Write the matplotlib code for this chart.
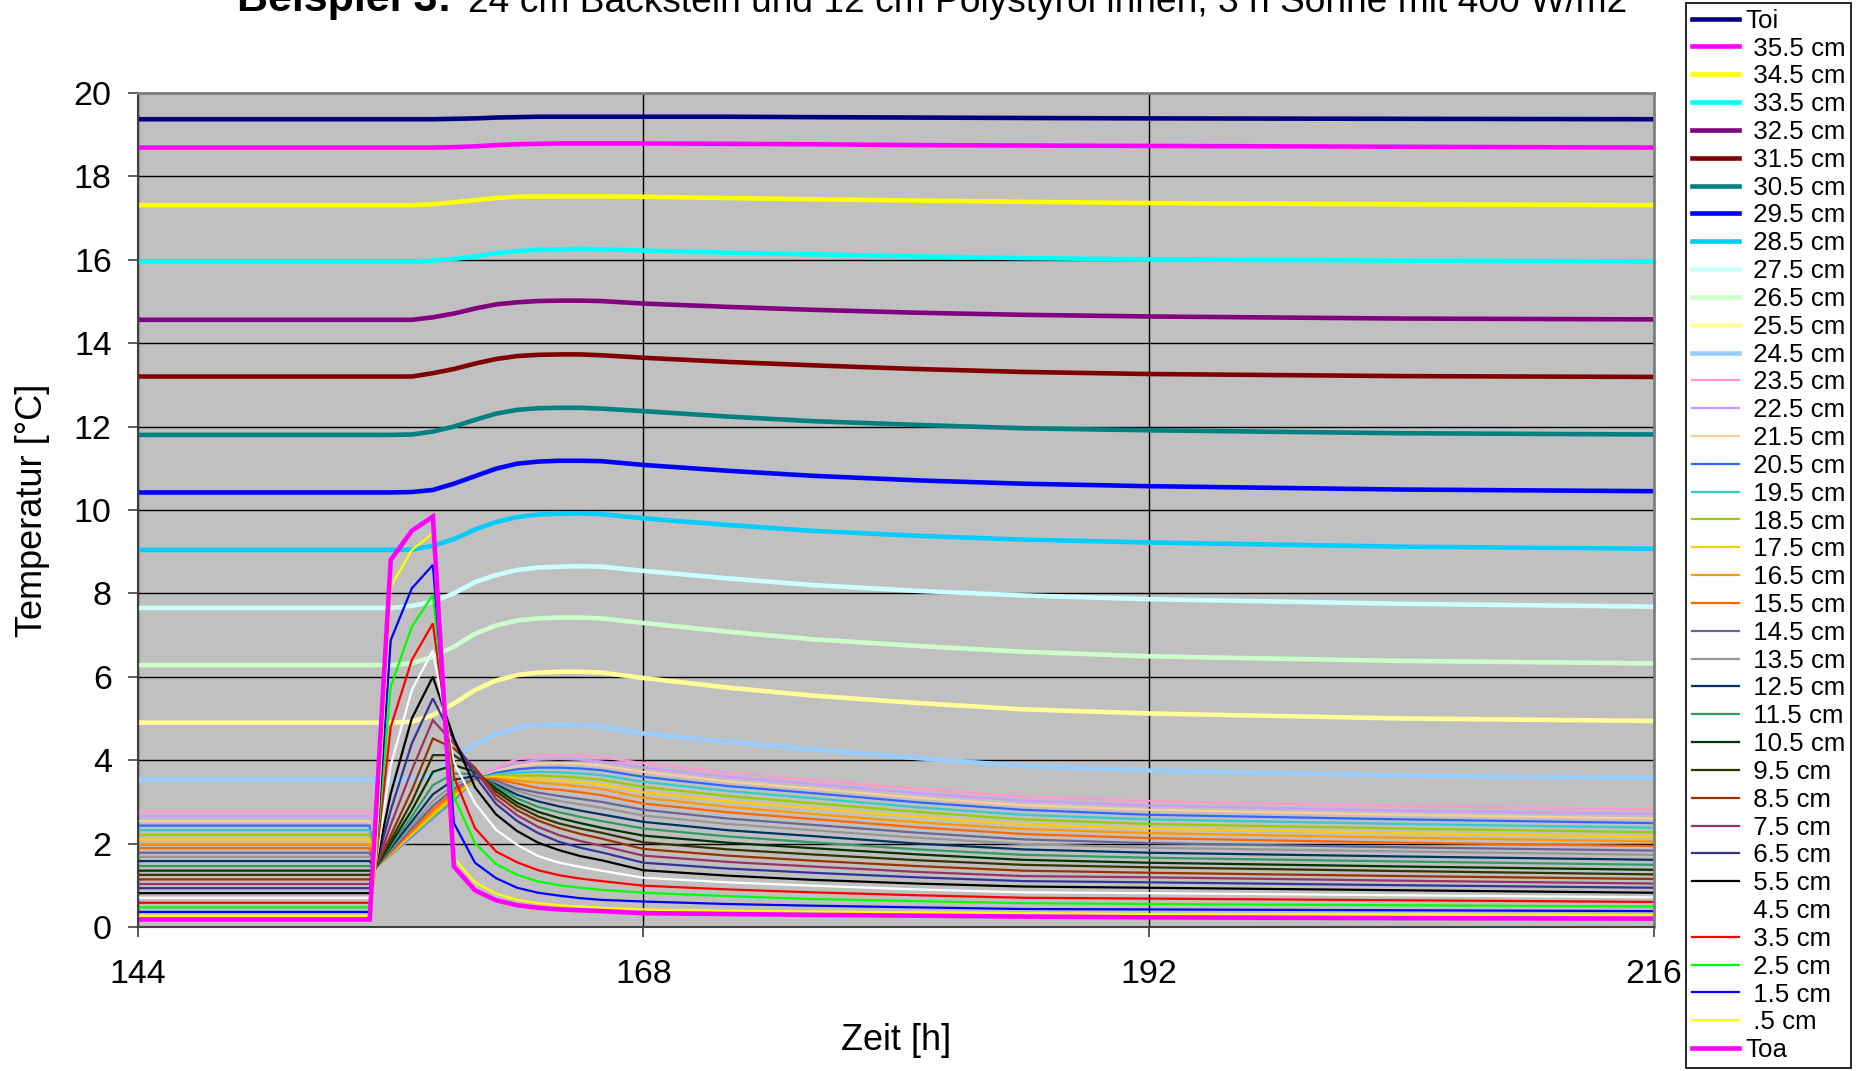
import matplotlib
matplotlib.use("Agg")
import matplotlib.pyplot as plt

plt.rcParams['font.family'] = ['Liberation Sans', 'DejaVu Sans']

# time axis [h]; brick layers have one extra sample just after the jump at 155 h
hours = [144, 155, 156, 157, 158, 159, 160, 161, 162, 163, 164, 165, 166, 168, 172, 176, 181, 186, 192, 204, 216]
brick_hours = [144, 155, 155.25, 156, 157, 158, 159, 160, 161, 162, 163, 164, 165, 166, 168, 172, 176, 181, 186, 192, 204, 216]

# inner surface, polystyrene layers and outer surface (hours)
toi = [19.37, 19.37, 19.37, 19.37, 19.37, 19.38, 19.39, 19.41, 19.42, 19.43, 19.43, 19.43, 19.43, 19.43, 19.43, 19.42, 19.41, 19.40, 19.39, 19.38, 19.37]
t355 = [18.69, 18.69, 18.69, 18.69, 18.69, 18.70, 18.72, 18.75, 18.77, 18.78, 18.79, 18.79, 18.79, 18.79, 18.78, 18.77, 18.75, 18.74, 18.73, 18.71, 18.69]
t345 = [17.31, 17.31, 17.31, 17.31, 17.33, 17.38, 17.43, 17.48, 17.51, 17.52, 17.52, 17.52, 17.52, 17.51, 17.48, 17.45, 17.42, 17.39, 17.36, 17.33, 17.31]
t335 = [15.95, 15.95, 15.95, 15.95, 15.98, 16.02, 16.08, 16.16, 16.21, 16.24, 16.25, 16.26, 16.25, 16.22, 16.17, 16.13, 16.08, 16.04, 16.01, 15.98, 15.96]
t325 = [14.56, 14.56, 14.56, 14.56, 14.62, 14.71, 14.83, 14.93, 14.98, 15.01, 15.02, 15.02, 15.01, 14.95, 14.87, 14.80, 14.73, 14.68, 14.64, 14.59, 14.57]
t315 = [13.20, 13.20, 13.20, 13.20, 13.28, 13.38, 13.51, 13.62, 13.69, 13.72, 13.73, 13.73, 13.71, 13.65, 13.55, 13.47, 13.38, 13.31, 13.26, 13.21, 13.19]
t305 = [11.80, 11.80, 11.80, 11.81, 11.88, 12.00, 12.16, 12.31, 12.40, 12.44, 12.45, 12.45, 12.43, 12.37, 12.24, 12.13, 12.04, 11.96, 11.91, 11.84, 11.81]
t295 = [10.42, 10.42, 10.42, 10.43, 10.48, 10.63, 10.81, 10.99, 11.11, 11.16, 11.18, 11.18, 11.17, 11.08, 10.94, 10.82, 10.71, 10.63, 10.57, 10.49, 10.45]
t285 = [9.04, 9.04, 9.04, 9.05, 9.14, 9.30, 9.53, 9.71, 9.83, 9.89, 9.91, 9.92, 9.90, 9.80, 9.64, 9.50, 9.38, 9.29, 9.22, 9.12, 9.07]
t275 = [7.65, 7.65, 7.65, 7.70, 7.80, 8.00, 8.27, 8.44, 8.56, 8.62, 8.64, 8.65, 8.64, 8.54, 8.36, 8.20, 8.06, 7.95, 7.86, 7.75, 7.68]
t265 = [6.28, 6.28, 6.28, 6.32, 6.48, 6.72, 7.03, 7.23, 7.35, 7.40, 7.42, 7.42, 7.40, 7.29, 7.08, 6.90, 6.74, 6.60, 6.49, 6.38, 6.32]
t255 = [4.90, 4.90, 4.90, 4.92, 5.08, 5.36, 5.68, 5.91, 6.04, 6.10, 6.12, 6.12, 6.10, 5.97, 5.74, 5.55, 5.37, 5.22, 5.12, 5.00, 4.94]
t245 = [3.53, 3.53, 3.53, 3.55, 3.65, 4.05, 4.38, 4.62, 4.78, 4.84, 4.86, 4.84, 4.80, 4.64, 4.44, 4.26, 4.05, 3.86, 3.75, 3.63, 3.57]
toa = [0.18, 0.18, 8.80, 9.50, 9.84, 1.45, 0.88, 0.64, 0.52, 0.46, 0.42, 0.40, 0.38, 0.33, 0.31, 0.29, 0.27, 0.25, 0.23, 0.21, 0.20]

# brick layers (brick_hours)
t235 = [2.77, 2.77, 1.43, 1.72, 2.14, 2.56, 3.00, 3.58, 3.84, 4.02, 4.12, 4.13, 4.11, 4.07, 3.93, 3.70, 3.53, 3.31, 3.13, 3.02, 2.90, 2.82]
t225 = [2.66, 2.66, 1.43, 1.72, 2.15, 2.57, 3.01, 3.56, 3.78, 3.93, 4.01, 4.03, 4.01, 3.97, 3.82, 3.60, 3.43, 3.21, 3.03, 2.91, 2.79, 2.71]
t215 = [2.54, 2.54, 1.42, 1.73, 2.16, 2.59, 3.02, 3.55, 3.74, 3.86, 3.92, 3.93, 3.91, 3.87, 3.72, 3.49, 3.32, 3.10, 2.92, 2.81, 2.69, 2.60]
t205 = [2.43, 2.43, 1.42, 1.73, 2.17, 2.61, 3.04, 3.54, 3.70, 3.78, 3.82, 3.82, 3.80, 3.76, 3.60, 3.38, 3.21, 2.99, 2.81, 2.69, 2.58, 2.49]
t195 = [2.32, 2.32, 1.42, 1.74, 2.19, 2.63, 3.07, 3.54, 3.66, 3.70, 3.72, 3.71, 3.68, 3.64, 3.48, 3.26, 3.09, 2.87, 2.69, 2.58, 2.47, 2.38]
t185 = [2.21, 2.21, 1.41, 1.75, 2.21, 2.66, 3.10, 3.54, 3.63, 3.63, 3.63, 3.61, 3.58, 3.53, 3.36, 3.14, 2.97, 2.76, 2.58, 2.47, 2.36, 2.27]
t175 = [2.10, 2.10, 1.41, 1.76, 2.23, 2.70, 3.14, 3.55, 3.60, 3.57, 3.54, 3.51, 3.47, 3.42, 3.23, 3.01, 2.85, 2.64, 2.46, 2.36, 2.25, 2.16]
t165 = [1.99, 1.99, 1.41, 1.77, 2.27, 2.75, 3.19, 3.55, 3.57, 3.51, 3.46, 3.42, 3.37, 3.31, 3.10, 2.88, 2.71, 2.51, 2.35, 2.25, 2.14, 2.05]
t155 = [1.89, 1.89, 1.41, 1.79, 2.31, 2.82, 3.25, 3.56, 3.54, 3.44, 3.33, 3.29, 3.23, 3.16, 2.96, 2.75, 2.59, 2.39, 2.23, 2.13, 2.02, 1.94]
t145 = [1.78, 1.78, 1.40, 1.82, 2.37, 2.90, 3.32, 3.57, 3.50, 3.32, 3.22, 3.14, 3.07, 3.00, 2.81, 2.60, 2.45, 2.26, 2.10, 2.01, 1.91, 1.83]
t135 = [1.68, 1.68, 1.40, 1.85, 2.44, 3.02, 3.42, 3.59, 3.46, 3.26, 3.12, 3.02, 2.94, 2.86, 2.67, 2.47, 2.32, 2.14, 1.99, 1.90, 1.81, 1.73]
t125 = [1.58, 1.58, 1.40, 1.89, 2.53, 3.18, 3.53, 3.62, 3.42, 3.17, 3.01, 2.89, 2.79, 2.70, 2.52, 2.32, 2.18, 2.00, 1.86, 1.78, 1.69, 1.61]
t115 = [1.46, 1.46, 1.40, 1.94, 2.65, 3.40, 3.68, 3.67, 3.38, 3.08, 2.88, 2.75, 2.64, 2.54, 2.36, 2.17, 2.03, 1.86, 1.73, 1.66, 1.57, 1.49]
t105 = [1.35, 1.35, 1.39, 2.00, 2.80, 3.72, 3.88, 3.72, 3.32, 2.98, 2.76, 2.61, 2.49, 2.38, 2.19, 2.02, 1.89, 1.74, 1.61, 1.54, 1.45, 1.37]
t95 = [1.25, 1.25, 1.39, 2.08, 3.00, 4.12, 4.12, 3.78, 3.25, 2.90, 2.65, 2.48, 2.36, 2.26, 2.03, 1.86, 1.74, 1.60, 1.49, 1.43, 1.34, 1.26]
t85 = [1.14, 1.14, 1.39, 2.20, 3.28, 4.52, 4.28, 3.82, 3.17, 2.80, 2.55, 2.37, 2.23, 2.12, 1.87, 1.71, 1.59, 1.46, 1.35, 1.30, 1.22, 1.15]
t75 = [1.03, 1.03, 1.38, 2.45, 3.76, 4.96, 4.40, 3.76, 3.07, 2.68, 2.40, 2.20, 2.06, 1.95, 1.71, 1.56, 1.45, 1.32, 1.22, 1.19, 1.11, 1.04]
t65 = [0.93, 0.93, 1.38, 2.80, 4.40, 5.48, 4.48, 3.62, 2.95, 2.54, 2.25, 2.04, 1.90, 1.79, 1.54, 1.40, 1.30, 1.19, 1.10, 1.07, 1.00, 0.94]
t55 = [0.81, 0.81, 1.38, 3.20, 5.00, 6.00, 4.52, 3.35, 2.70, 2.30, 2.02, 1.84, 1.70, 1.60, 1.36, 1.23, 1.13, 1.04, 0.97, 0.94, 0.88, 0.82]
t45 = [0.70, 0.70, 1.38, 3.88, 5.68, 6.63, 3.95, 2.97, 2.33, 1.97, 1.70, 1.54, 1.44, 1.35, 1.18, 1.07, 0.99, 0.90, 0.83, 0.81, 0.76, 0.71]
t35 = [0.58, 0.58, 1.37, 4.80, 6.40, 7.28, 3.60, 2.37, 1.81, 1.55, 1.36, 1.24, 1.16, 1.10, 0.99, 0.90, 0.83, 0.76, 0.70, 0.68, 0.64, 0.60]
t25 = [0.47, 0.47, 1.37, 5.76, 7.20, 7.96, 3.12, 2.01, 1.51, 1.25, 1.09, 1.00, 0.94, 0.89, 0.82, 0.74, 0.67, 0.62, 0.57, 0.55, 0.52, 0.49]
t15 = [0.36, 0.36, 1.37, 6.88, 8.12, 8.68, 2.49, 1.54, 1.17, 0.94, 0.82, 0.75, 0.69, 0.65, 0.61, 0.55, 0.51, 0.47, 0.43, 0.42, 0.40, 0.38]
t05 = [0.27, 0.27, 1.36, 8.16, 9.04, 9.44, 1.65, 1.07, 0.80, 0.65, 0.57, 0.52, 0.49, 0.46, 0.42, 0.39, 0.37, 0.35, 0.33, 0.31, 0.30, 0.28]

labels = ["Toi", " 35.5 cm", " 34.5 cm", " 33.5 cm", " 32.5 cm", " 31.5 cm", " 30.5 cm",
          " 29.5 cm", " 28.5 cm", " 27.5 cm", " 26.5 cm", " 25.5 cm", " 24.5 cm",
          " 23.5 cm", " 22.5 cm", " 21.5 cm", " 20.5 cm", " 19.5 cm", " 18.5 cm",
          " 17.5 cm", " 16.5 cm", " 15.5 cm", " 14.5 cm", " 13.5 cm", " 12.5 cm",
          " 11.5 cm", " 10.5 cm", " 9.5 cm", " 8.5 cm", " 7.5 cm", " 6.5 cm",
          " 5.5 cm", " 4.5 cm", " 3.5 cm", " 2.5 cm", " 1.5 cm", " .5 cm", "Toa"]
series = [toi, t355, t345, t335, t325, t315, t305, t295, t285, t275, t265, t255, t245,
          t235, t225, t215, t205, t195, t185, t175, t165, t155, t145, t135, t125,
          t115, t105, t95, t85, t75, t65, t55, t45, t35, t25, t15, t05, toa]
colors = ["#000080", "#FF00FF", "#FFFF00", "#00FFFF", "#800080", "#800000", "#008080",
          "#0000FF", "#00CCFF", "#CCFFFF", "#CCFFCC", "#FFFF99", "#99CCFF",
          "#FF99CC", "#CC99FF", "#FFCC99", "#3366FF", "#33CCCC", "#99CC00",
          "#FFCC00", "#FF9900", "#FF6600", "#666699", "#969696", "#003366",
          "#339966", "#003300", "#333300", "#993300", "#993366", "#333399",
          "#000000", "#FFFFFF", "#FF0000", "#00FF00", "#0000FF", "#FFFF00", "#FF00FF"]

fig = plt.figure(figsize=(18.61, 10.71), dpi=100)
ax = fig.add_axes([0.0742, 0.1345, 0.8146, 0.7787])
ax.set_facecolor("#C0C0C0")

handles = []
for i, (lab, vals, col) in enumerate(zip(labels, series, colors)):
    thick = i <= 12 or lab == "Toa"
    xs = brick_hours if len(vals) == len(brick_hours) else hours
    h, = ax.plot(xs, vals, color=col, lw=3.3 if thick else 1.6,
                 solid_joinstyle="miter", zorder=2 + i * 0.01)
    handles.append(h)

ax.set_xlim(144, 216)
ax.set_ylim(0, 20)
ax.set_xticks([144, 168, 192, 216])
ax.set_yticks(range(0, 21, 2))
ax.grid(True, color="black", lw=1.0)
ax.set_axisbelow(True)
ax.tick_params(labelsize=24.5, length=7, width=1.2, color="#404040")
ax.tick_params(axis="y", pad=12)
ax.tick_params(axis="x", pad=16)
for side in ["top", "right"]:
    ax.spines[side].set_color("#808080")
    ax.spines[side].set_linewidth(2)
for side in ["left", "bottom"]:
    ax.spines[side].set_color("#404040")
    ax.spines[side].set_linewidth(1.5)

fig.text(33 / 1861, 1 - 510 / 1071, "Temperatur [°C]", rotation=90,
         ha="center", va="center", fontsize=26)
fig.text(896 / 1861, 1 - 1041 / 1071, "Zeit [h]", ha="center", va="center", fontsize=26)

# title is partly cut off at the top edge, like in the original
fig.text(237 / 1861, 1 - 11.5 / 1071, "Beispiel 3:", fontsize=31, weight="bold", va="baseline")
fig.text(468 / 1861, 1 - 11.5 / 1071,
         "24 cm Backstein und 12 cm Polystyrol innen, 3 h Sonne mit 400 W/m2",
         fontsize=26.7, va="baseline")

leg = fig.legend(handles, labels, loc="upper left", bbox_to_anchor=(1686 / 1861, 1 - 3 / 1071),
                 fontsize=18.6, frameon=True, fancybox=False, edgecolor="black",
                 framealpha=1, handlelength=1.82, handletextpad=0.27,
                 labelspacing=0.148, borderpad=0.22, borderaxespad=0)
leg.get_frame().set_linewidth(1.2)

fig.savefig("out.png", dpi=100)
